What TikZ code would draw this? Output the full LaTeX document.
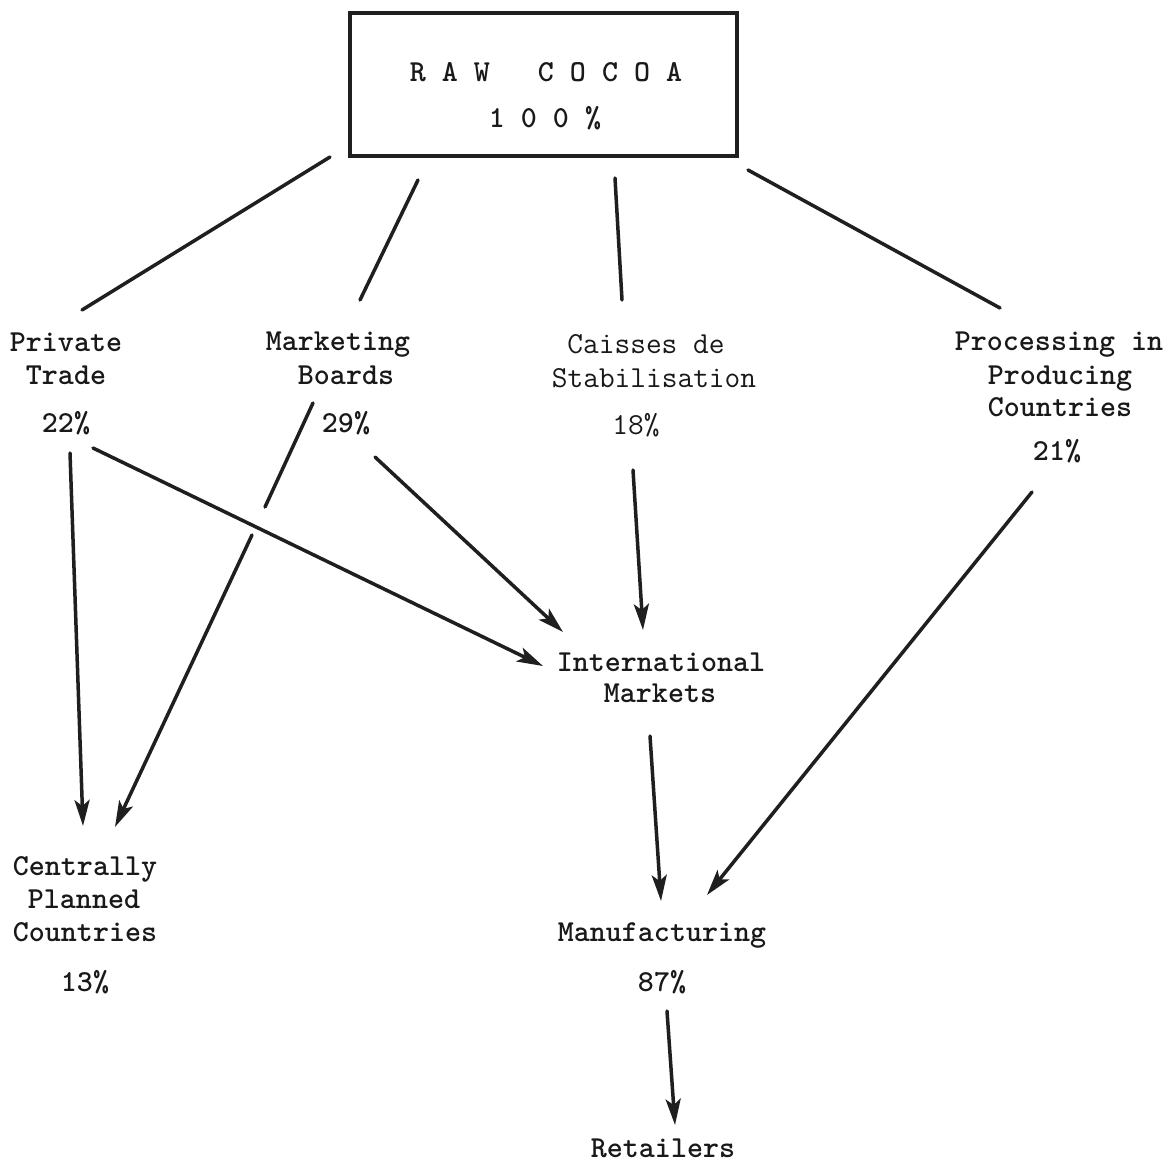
\documentclass[tikz,border=0pt]{standalone}
\usetikzlibrary{arrows.meta}
\begin{document}
\begin{tikzpicture}[x=1pt,y=-1pt]
\tikzset{
 tw/.style={font=\fontsize{30.5}{33}\selectfont\ttfamily\bfseries, inner sep=0pt, anchor=base, text=black!90},
 twl/.style={font=\fontsize{30.5}{33}\selectfont\ttfamily, inner sep=0pt, anchor=base, text=black!90},
 ln/.style={line width=3.5pt, line cap=round, draw=black!88},
 ar/.style={ln, -{Stealth[length=26pt,width=15pt,inset=6pt]}},
}
\useasboundingbox (0,0) rectangle (1167,1168);
\fill[white] (0,0) rectangle (1167,1168);
% box
\draw[line width=4pt, draw=black!88] (350,13) rectangle (737,156);
\node[tw] (raw) at (546,81) {R A W\ \ \ C O C O A};
\node[tw] (rawp) at (545,127) {1 0 0 \%};
% Private Trade
\node[tw] (pt1) at (66,351) {Private};
\node[tw] (pt2) at (66,384) {Trade};
\node[tw] (pt3) at (66,432) {22\%};
% Marketing Boards
\node[tw] (mb1) at (338,350) {Marketing};
\node[tw] (mb2) at (346,384) {Boards};
\node[tw] (mb3) at (346,432) {29\%};
% Caisses
\node[twl] (cs1) at (646,353) {Caisses de};
\node[twl] (cs2) at (654,387) {Stabilisation};
\node[twl] (cs3) at (636,434) {18\%};
% Processing
\node[tw] (pp1) at (1059,350) {Processing in};
\node[tw] (pp2) at (1060,384) {Producing};
\node[tw] (pp3) at (1060,416) {Countries};
\node[tw] (pp4) at (1057,460) {21\%};
% International Markets
\node[tw] (im1) at (661,671) {International};
\node[tw] (im2) at (660,702) {Markets};
% Centrally Planned
\node[tw] (cp1) at (85,875) {Centrally};
\node[tw] (cp2) at (84,908) {Planned};
\node[tw] (cp3) at (85,941) {Countries};
\node[tw] (cp4) at (85,991) {13\%};
% Manufacturing
\node[tw] (mf1) at (662,941) {Manufacturing};
\node[tw] (mf2) at (662,991) {87\%};
% Retailers
\node[tw] (rt) at (663,1157) {Retailers};
% coordinates
\coordinate (b1) at (330,157); \coordinate (pt-top) at (82,310);
\coordinate (b2) at (418,180); \coordinate (mb-top) at (360,300);
\coordinate (b3) at (615,178); \coordinate (cs-top) at (622,300);
\coordinate (b4) at (748,170); \coordinate (pp-top) at (1000,308);
\coordinate (pt-a) at (70,453); \coordinate (cp-a) at (83,826);
\coordinate (pt-b) at (93,448); \coordinate (im-a) at (543,666);
\coordinate (mb-a) at (313,403); \coordinate (mb-g1) at (265,507);
\coordinate (mb-g2) at (252,535); \coordinate (cp-b) at (115,827);
\coordinate (mb-b) at (375,457); \coordinate (im-b) at (563,632);
\coordinate (cs-a) at (633,470); \coordinate (im-c) at (643,630);
\coordinate (im-d) at (650,736); \coordinate (mf-a) at (661,901);
\coordinate (pp-a) at (1032,492); \coordinate (mf-b) at (707,895);
\coordinate (mf-c) at (667,1011); \coordinate (rt-a) at (675,1125);
% lines from box
\draw[ln] (b1) -- (pt-top);
\draw[ln] (b2) -- (mb-top);
\draw[ln] (b3) -- (cs-top);
\draw[ln] (b4) -- (pp-top);
% arrows
\draw[ar] (pt-a) -- (cp-a);
\draw[ar] (pt-b) -- (im-a);
\draw[ln] (mb-a) -- (mb-g1);
\draw[ar] (mb-g2) -- (cp-b);
\draw[ar] (mb-b) -- (im-b);
\draw[ar] (cs-a) -- (im-c);
\draw[ar] (im-d) -- (mf-a);
\draw[ar] (pp-a) -- (mf-b);
\draw[ar] (mf-c) -- (rt-a);
\end{tikzpicture}
\end{document}
